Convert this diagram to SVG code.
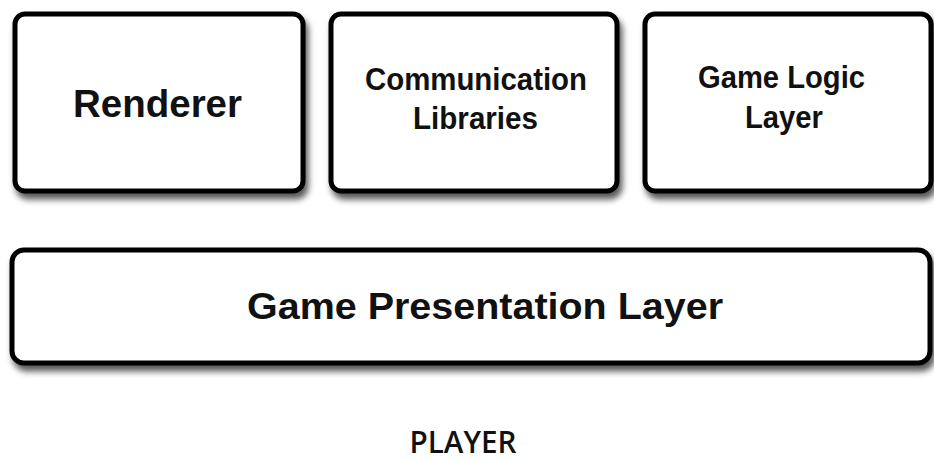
<svg xmlns="http://www.w3.org/2000/svg" width="934" height="461" viewBox="0 0 934 461">
<defs>
<filter id="sh" x="-10%" y="-10%" width="130%" height="140%">
<feDropShadow dx="3" dy="6" stdDeviation="3" flood-color="#000" flood-opacity="0.65"/>
</filter>
</defs>
<style>
.box{fill:#fff;stroke:#000;stroke-width:5;filter:url(#sh)}
.t{font-family:"Liberation Sans",Arial,sans-serif;font-weight:bold;fill:#111;text-anchor:middle}
.p{font-family:"Open Sans","DejaVu Sans",sans-serif;font-weight:600;fill:#111;text-anchor:middle}
</style>
<rect width="934" height="461" fill="#fff"/>
<g id="renderer">
<rect class="box" x="15" y="14" width="288" height="177" rx="10"/>
<text class="t" x="157.5" y="117" font-size="38" textLength="169" lengthAdjust="spacingAndGlyphs">Renderer</text>
</g>
<g id="communication">
<rect class="box" x="331" y="14" width="286" height="177" rx="10"/>
<text class="t" x="476" y="90" font-size="31" textLength="222" lengthAdjust="spacingAndGlyphs">Communication</text>
<text class="t" x="475.5" y="129" font-size="31" textLength="125" lengthAdjust="spacingAndGlyphs">Libraries</text>
</g>
<g id="gamelogic">
<rect class="box" x="645" y="14" width="286" height="177" rx="10"/>
<text class="t" x="781.5" y="88" font-size="31" textLength="167" lengthAdjust="spacingAndGlyphs">Game Logic</text>
<text class="t" x="784" y="128" font-size="31" textLength="78" lengthAdjust="spacingAndGlyphs">Layer</text>
</g>
<g id="presentation">
<rect class="box" x="12" y="250" width="918" height="113" rx="12"/>
<text class="t" x="485" y="319" font-size="36" textLength="476" lengthAdjust="spacingAndGlyphs">Game Presentation Layer</text>
</g>
<g id="player">
<text class="p" x="463" y="453" font-size="30" textLength="107" lengthAdjust="spacingAndGlyphs">PLAYER</text>
</g>
<g id="connectors"/>
</svg>
